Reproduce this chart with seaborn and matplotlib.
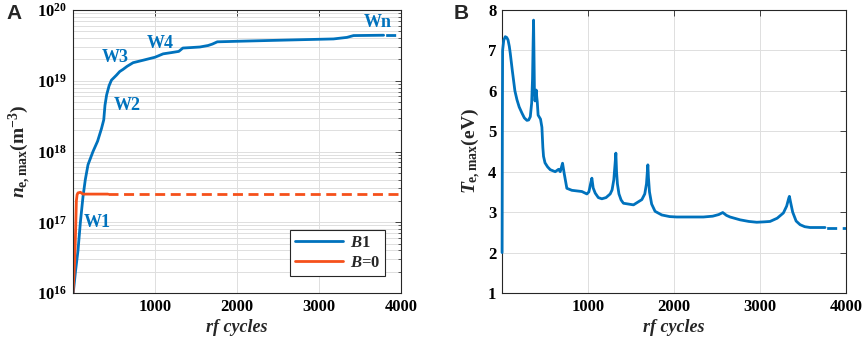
import numpy as np
import pandas as pd
import matplotlib
matplotlib.use('Agg')
import matplotlib.pyplot as plt
import seaborn as sns
from matplotlib.ticker import FuncFormatter, LogLocator

# ---- data ----
# panel A: max electron density vs rf cycles
b1_x = [3, 30, 61, 90, 122, 150, 183, 244, 300, 347, 375, 390, 410, 440, 469,
        530, 570, 611, 660, 733, 855, 1000, 1099, 1200, 1290, 1340, 1450,
        1548, 1648, 1700, 1760, 1955, 2362, 2770, 3177, 3340, 3421, 3788]
b1_ne = [1.0e16, 2.0e16, 4.0e16, 1.0e17, 2.3e17, 4.0e17, 6.5e17, 1.0e18,
         1.4e18, 2.1e18, 2.8e18, 4.5e18, 6.3e18, 8.5e18, 1.02e19,
         1.2e19, 1.35e19, 1.45e19, 1.6e19, 1.8e19, 1.95e19, 2.15e19, 2.4e19,
         2.5e19, 2.6e19, 2.9e19, 2.95e19, 3.0e19, 3.15e19, 3.3e19, 3.55e19,
         3.6e19, 3.7e19, 3.8e19, 3.9e19, 4.1e19, 4.35e19, 4.4e19]
b1_tail_x = [3788, 4000]
b1_tail_ne = [4.4e19, 4.4e19]

b0_x = [0, 12, 21, 33, 41, 50, 61, 90, 122, 427]
b0_ne = [1.0e16, 1.8e16, 2.9e16, 8.5e16, 2.0e17, 2.45e17, 2.6e17, 2.65e17, 2.5e17, 2.5e17]
b0_tail_x = [427, 4000]
b0_tail_ne = [2.5e17, 2.5e17]

labels_w = ['W1', 'W2', 'W3', 'W4', 'Wn']
labels_wx = [290, 657, 517, 1067, 3716]
labels_wy = [1.0e17, 4.5e18, 2.1e19, 3.4e19, 6.6e19]

# panel B: max electron temperature vs rf cycles
te_x = [1, 4, 7, 20, 38, 55, 70, 85, 96, 120, 150, 174, 200, 232, 260, 290, 310,
        329, 345, 355, 362, 367, 372, 377, 384, 392, 398, 404, 410, 420, 448,
        464, 475, 483, 500, 530, 561, 619, 658, 677, 704, 723, 754, 812, 929,
        987, 1010, 1030, 1045, 1060, 1084, 1120, 1161, 1210, 1258, 1280, 1300,
        1315, 1324, 1332, 1342, 1360, 1385, 1412, 1529, 1626, 1660, 1680, 1690,
        1696, 1703, 1715, 1740, 1780, 1858, 1950, 2032, 2342, 2450, 2520, 2567,
        2610, 2652, 2768, 2870, 2962, 3050, 3117, 3200, 3272, 3310, 3335, 3342,
        3355, 3380, 3420, 3466, 3520, 3582, 3756]
te_ev = [2.0, 5.0, 7.0, 7.25, 7.34, 7.32, 7.26, 7.1, 6.93, 6.5, 6.0, 5.78, 5.6,
         5.45, 5.33, 5.27, 5.28, 5.36, 5.7, 6.3, 7.2, 7.75, 6.9, 6.0, 5.75,
         5.9, 6.02, 5.85, 5.73, 5.4, 5.30, 5.1, 4.6, 4.38, 4.22, 4.12, 4.05,
         4.00, 4.06, 4.00, 4.21, 3.96, 3.59, 3.54, 3.51, 3.45, 3.5, 3.7, 3.84,
         3.6, 3.47, 3.36, 3.33, 3.36, 3.45, 3.55, 3.8, 4.2, 4.46, 4.0, 3.7,
         3.45, 3.3, 3.22, 3.18, 3.31, 3.45, 3.7, 4.0, 4.17, 3.85, 3.5, 3.2,
         3.02, 2.93, 2.89, 2.88, 2.88, 2.90, 2.94, 2.99, 2.92, 2.88, 2.81,
         2.77, 2.75, 2.76, 2.77, 2.85, 2.98, 3.15, 3.35, 3.39, 3.25, 3.0, 2.78,
         2.69, 2.64, 2.62, 2.62]
te_tail_x = [3756, 4000]
te_tail_ev = [2.62, 2.62]

blue = '#0072BD'
red = '#F5501B'

sns.set_theme(style='whitegrid')
plt.rcParams['font.family'] = ['Liberation Serif', 'DejaVu Serif']
plt.rcParams['font.weight'] = 'bold'
plt.rcParams['mathtext.fontset'] = 'custom'
plt.rcParams['mathtext.rm'] = 'Liberation Serif:bold'
plt.rcParams['mathtext.bf'] = 'Liberation Serif:bold'
plt.rcParams['mathtext.it'] = 'Liberation Serif:italic:bold'
plt.rcParams['axes.edgecolor'] = '#262626'
plt.rcParams['axes.linewidth'] = 0.8
plt.rcParams['grid.color'] = '#dedede'
plt.rcParams['grid.linewidth'] = 0.7

fig = plt.figure(figsize=(8.65, 3.43), dpi=100)
axA = fig.add_axes([73 / 865, 1 - 293 / 343, 328 / 865, 283 / 343])
axB = fig.add_axes([502 / 865, 1 - 293 / 343, 344 / 865, 283 / 343])

dash = (0, (3.6, 2.0))
tail_dash = (5.0, (3.6, 2.0))

# ---- panel A ----
axA.set_yscale('log')
sns.lineplot(x=b1_x, y=b1_ne, ax=axA, color=blue, lw=2, label='$B$1', sort=False)
sns.lineplot(x=b1_tail_x, y=b1_tail_ne, ax=axA, color=blue, lw=2,
             linestyle=tail_dash, sort=False)
sns.lineplot(x=b0_x, y=b0_ne, ax=axA, color=red, lw=2, label='$B$=0', sort=False)
sns.lineplot(x=b0_tail_x, y=b0_tail_ne, ax=axA, color=red, lw=2, linestyle=dash, sort=False)

for t, x, y in zip(labels_w, labels_wx, labels_wy):
    axA.text(x, y, t, color=blue, fontsize=13, fontweight='bold', ha='center', va='center')

axA.set_xlim(0, 4000)
axA.set_ylim(1e16, 1e20)
axA.set_xticks([1000, 2000, 3000, 4000])
axA.yaxis.set_major_locator(LogLocator(base=10))
axA.yaxis.set_minor_locator(LogLocator(base=10, subs=np.arange(2, 10)))
axA.yaxis.set_major_formatter(FuncFormatter(lambda v, p: r'$\mathbf{10^{%d}}$' % round(np.log10(v))))
axA.yaxis.set_minor_formatter(FuncFormatter(lambda v, p: ''))
axA.grid(True, which='both', axis='y')
axA.grid(True, which='major', axis='x')
axA.set_ylabel(r'$n_{\mathbf{e,max}}\mathbf{(m^{-3})}$', fontsize=14, labelpad=3)
axA.set_xlabel('rf cycles', fontsize=13, style='italic', fontweight='bold', labelpad=3)
leg = axA.legend(loc='lower right', bbox_to_anchor=(0.951, 0.06), fontsize=12,
                 handlelength=2.9, fancybox=False, framealpha=1, borderpad=0.3,
                 labelspacing=0.25, handletextpad=0.4, borderaxespad=0)
leg.get_frame().set_edgecolor('#262626')
leg.get_frame().set_linewidth(0.8)

# ---- panel B ----
sns.lineplot(x=te_x, y=te_ev, ax=axB, color=blue, lw=2, sort=False,
             clip_on=False, zorder=3)
sns.lineplot(x=te_tail_x, y=te_tail_ev, ax=axB, color=blue, lw=2,
             linestyle=tail_dash, sort=False)
axB.set_xlim(0, 4000)
axB.set_ylim(1, 8)
axB.set_xticks([1000, 2000, 3000, 4000])
axB.set_yticks(range(1, 9))
axB.grid(True, which='major')
axB.set_ylabel(r'$T_{\mathbf{e,max}}\mathbf{(eV)}$', fontsize=14, labelpad=4)
axB.set_xlabel('rf cycles', fontsize=13, style='italic', fontweight='bold', labelpad=3)

for ax in (axA, axB):
    ax.tick_params(axis='both', which='both', direction='in', top=True, right=True,
                   labelsize=12, colors='#262626', labelcolor='black', pad=4)
    ax.tick_params(which='major', length=4, width=0.6)
    ax.tick_params(which='minor', length=2, width=0.5)
    for s in ax.spines.values():
        s.set_visible(True)
        s.set_color('#262626')
    for lab in ax.get_xticklabels() + ax.get_yticklabels():
        lab.set_fontweight('bold')

fig.text(6 / 865, 1 - 4 / 343, 'A', fontsize=15, fontweight='bold', va='top',
         family=['Liberation Sans', 'DejaVu Sans'])
fig.text(454 / 865, 1 - 4 / 343, 'B', fontsize=15, fontweight='bold', va='top',
         family=['Liberation Sans', 'DejaVu Sans'])

fig.savefig('out.png', dpi=100)
